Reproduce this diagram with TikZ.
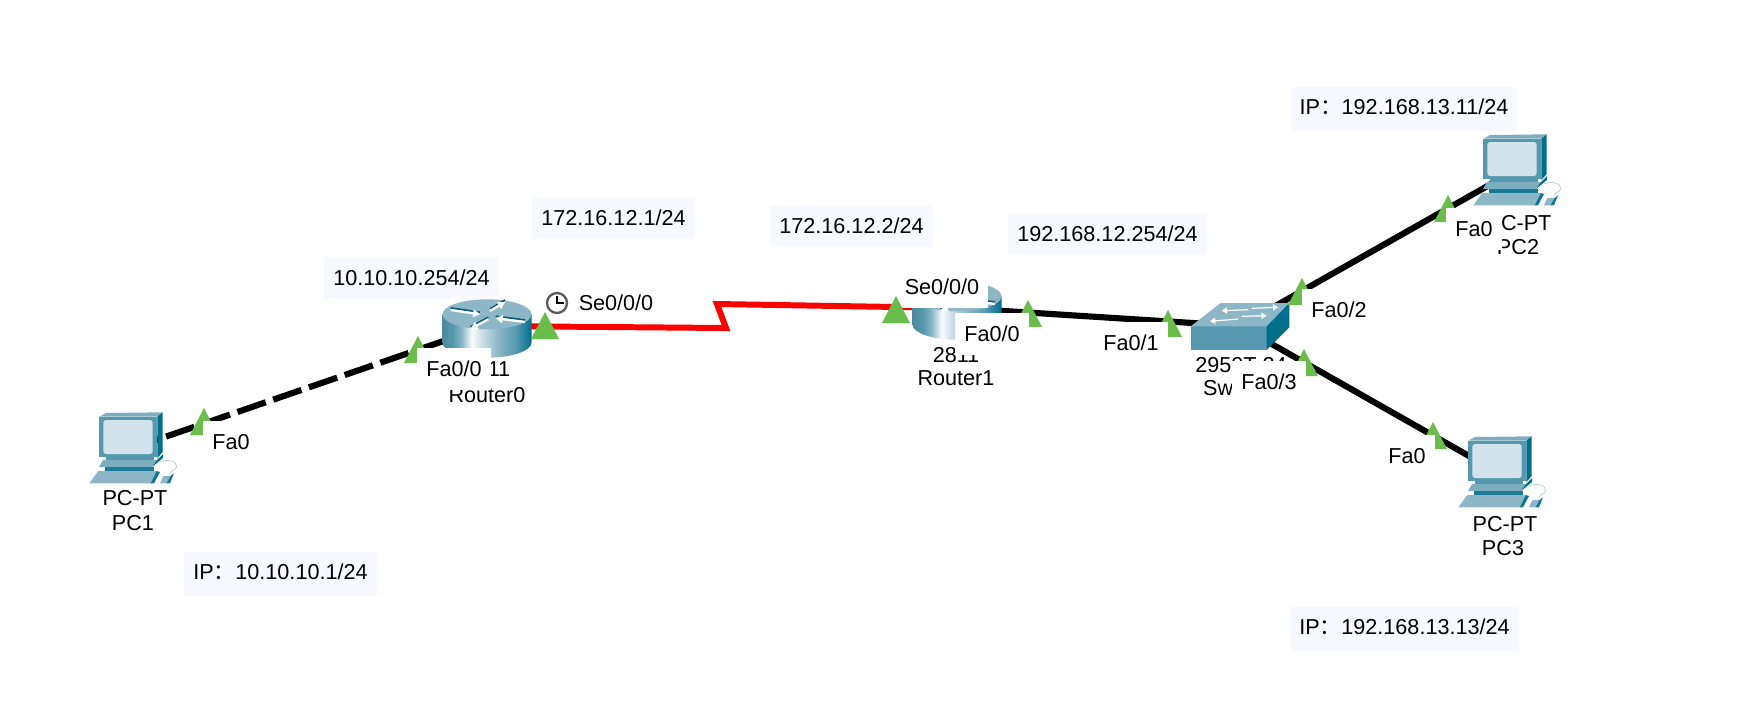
\documentclass[tikz,border=0pt]{standalone}
\usepackage{fontspec}
\setmainfont{Liberation Sans}
\newfontfamily\cjk{Noto Sans CJK SC}
\usepackage{tikz}
\usetikzlibrary{arrows.meta}

\definecolor{pcfront}{HTML}{5798AF}
\definecolor{pcdark}{HTML}{006F8C}
\definecolor{pclight}{HTML}{8DB7C7}
\definecolor{pcscreen}{HTML}{D3E3EB}
\definecolor{portgreen}{HTML}{6ABD4B}
\definecolor{addrfill}{HTML}{F8F9FF}
% the path's box covers 25bp to 75bp of the shading
\pgfdeclarehorizontalshading{cylside}{100bp}{
  color(0bp)=(pcfront!90!black); color(25bp)=(pcfront!90!black); color(31bp)=(pcfront); color(36bp)=(pclight);
  color(41.5bp)=(white!92!pcscreen); color(46bp)=(pcscreen); color(56bp)=(pclight); color(66bp)=(pcfront);
  color(75bp)=(pcdark); color(100bp)=(pcdark)}

\tikzset{
  label/.style={inner sep=0pt,text height=8.8pt,text depth=0pt},
  port/.style={fill=white,inner xsep=5.1pt,inner ysep=7.5pt,text height=8.8pt,text depth=0pt},
  addr/.style={fill=addrfill,inner xsep=5.1pt,inner ysep=7.5pt,text height=8.8pt,text depth=0pt},
  ipaddr/.style={addr,inner ysep=7pt,text depth=2.2pt},
  dev/.style={inner sep=0pt,minimum size=0pt},
  link/.style={line width=3.5pt,black},
  serial/.style={line width=3.4pt,red,line join=miter},
  pics/pcicon/.style={code={
    \fill[pclight!70!pcfront] (-30.7,-32.3) -- (-24,-36) -- (32.7,-36.7) -- (27.3,-32.3) -- cycle;
    \fill[pcfront] (-30.7,-32.3) rectangle (27.3,8);
    \fill[pcdark] (27.3,-32.3) -- (32.7,-36.7) -- (32.7,3) -- (27.3,9) -- cycle;
    \fill[pcscreen,rounded corners=1.6pt] (-26.7,-29) rectangle (22.7,5);
    \fill[pcfront] (-24,8) rectangle (24,11);
    \fill[pclight!70!pcfront] (-27,11) -- (27,11) -- (22,18) -- (-31,18) -- cycle;
    \fill[pcdark] (27,11) -- (33,5) -- (33,9) -- (22,18) -- cycle;
    \fill[pcdark!70!pcfront] (-25,18) rectangle (24,22);
    \fill[pclight] (-31.7,22) -- (26.7,22) -- (20.7,34.3) -- (-40.7,34.3) -- cycle;
    \fill[pcdark!80!pcfront] (26.7,22) -- (30,23) -- (24,34.3) -- (20.7,34.3) -- cycle;
    \fill[pclight] (33.3,27) -- (40.5,27) -- (36.5,34.3) -- (30,34.3) -- cycle;
    \fill[pcdark!80!pcfront] (40.5,27) -- (44,24.3) -- (40,34.3) -- (36.5,34.3) -- cycle;
    \draw[pclight!70,line width=.4pt] (30,12.7) .. controls (38,10) and (47,12) .. (46.7,17.7) .. controls (46,21) and (41,21) .. (40,24.3);
  }},
  pics/routericon/.style={code={
    \shade[shading=cylside] (-44.5,-11.7) -- (-44.5,16.7) arc[start angle=180,end angle=0,x radius=44.5,y radius=15] -- (44.5,-11.7) -- cycle;
    \fill[pclight] (0,-11.7) ellipse (44.5 and 15);
    % four arrows on the lid
    \foreach \ax/\ay/\bx/\by in {-36.3/-16/-7/-11.7,3/-15/18/-24,1.3/-6.7/-16.3/2.7,38/-4/8.7/-7.7} {
      \draw[pcdark!80!black,line width=.9pt,yshift=1.2pt] (\ax,\ay) -- (\bx,\by);
      \draw[-{Triangle[length=4pt,width=4.5pt]},white,line width=1.3pt] (\ax,\ay) -- (\bx,\by);
    }
  }},
  pics/switchicon/.style={code={
    \fill[pcfront] (-49.3,0.3) rectangle (26.7,24);
    \fill[pclight] (-49.3,0.3) -- (-19.3,-23) -- (49.3,-23) -- (26.7,0.3) -- cycle;
    \fill[pcdark] (26.7,0.3) -- (49.3,-23) -- (49.3,1.3) -- (26.7,24) -- cycle;
    \foreach \ax/\ay/\bx/\by in {8.3/-16.3/-18.3/-15.3,11.7/-17.7/38.3/-18.7,-1.7/-7/-30/-4.7,1.7/-9.7/26.7/-10.3}
      \draw[-{Triangle[length=3pt,width=3.5pt]},white,line width=.7pt] (\ax,\ay) -- (\bx,\by);
  }},
  pics/clockicon/.style={code={
    \fill[white] (0,0) circle (10);
    \draw[black!65,line width=1.3pt] (0,0) circle (10);
    \draw[black,line width=.8pt] (0,-7) -- (0,0) -- (7,0);
  }}
}

\begin{document}
\begin{tikzpicture}[x=0.02cm,y=-0.02cm,font=\fontsize{12.3}{14}\selectfont]
\useasboundingbox (0,0) rectangle (1742,725);
\fill[white] (0,0) rectangle (1742,725);

\node[dev] (pc1) at (130,449) {};
\node[dev] (router0) at (487,326) {};
\node[dev] (router1) at (957,308) {};
\node[dev] (sw) at (1240,326) {};
\node[dev] (pc2) at (1514,171) {};
\node[dev] (pc3) at (1499,473) {};
\coordinate (kinka) at (726,328);
\coordinate (kinkb) at (717,304);

% links
\draw[link,dash pattern=on 17pt off 4.5pt] (pc1) -- (router0);
\draw[serial] (router0) -- (kinka) -- (kinkb) -- (router1);
\draw[link] (router1) -- (sw);
\draw[link] (sw) -- (pc2);
\draw[link] (sw) -- (pc3);

% devices
\pic at (pc1) {pcicon};
\pic at (pc2) {pcicon};
\pic at (pc3) {pcicon};
\pic at (router0) {routericon};
\pic at (router1) {routericon};
\pic at (sw) {switchicon};

\node[label] (pc1type) at (135,498) {PC-PT};
\node[label] (pc1name) at (133,523) {PC1};
\node[label] (pc2type) at (1519,223) {PC-PT};
\node[label] (pc2name) at (1518,247) {PC2};
\node[label] (pc3type) at (1505,524) {PC-PT};
\node[label] (pc3name) at (1503,548) {PC3};
\node[label] (r0type) at (487,369) {2811};
\node[label] (r0name) at (487,395) {Router0};
\node[label] (r1type) at (956,355) {2811};
\node[label] (r1name) at (956,378) {Router1};
\node[label] (swtype) at (1241,365) {2950T-24};
\node[label] (swname) at (1241,388) {Switch0};

\node[port] (r1se) at (942,287) {Se0/0/0};

% link lights
\foreach \p in {(204,408),(418,336),(545,312),(896,296),(1028,300),
                (1168,310),(1302,278),(1304,349),(1448,195),(1433,422)}
  \fill[portgreen] \p -- ++(14,27) -- ++(-28,0) -- cycle;

\node[port] (pc1fa) at (231,442) {Fa0};
\node[port] (r0fa) at (454,369) {Fa0/0};
\node[port] (r0se) at (616,303) {Se0/0/0};
\node[port] (r1fa) at (992,334) {Fa0/0};
\node[port] (swfa1) at (1131,343) {Fa0/1};
\node[port] (swfa2) at (1339,310) {Fa0/2};
\node[port] (swfa3) at (1269,382) {Fa0/3};
\node[port] (pc2fa) at (1474,229) {Fa0};
\node[port] (pc3fa) at (1407,456) {Fa0};

\pic at (557,303) {clockicon};

% addresses
\node[addr] (r0fagw) at (411.5,278) {10.10.10.254/24};
\node[addr] (r0seip) at (613.5,218) {172.16.12.1/24};
\node[addr] (r1seip) at (851.5,226) {172.16.12.2/24};
\node[addr] (r1fagw) at (1107.5,234) {192.168.12.254/24};
\node[ipaddr] (pc1ip) at (280.5,574) {IP{\cjk：}10.10.10.1/24};
\node[ipaddr] (pc2ip) at (1404,109) {IP{\cjk：}192.168.13.11/24};
\node[ipaddr] (pc3ip) at (1404.5,629) {IP{\cjk：}192.168.13.13/24};
\end{tikzpicture}
\end{document}
